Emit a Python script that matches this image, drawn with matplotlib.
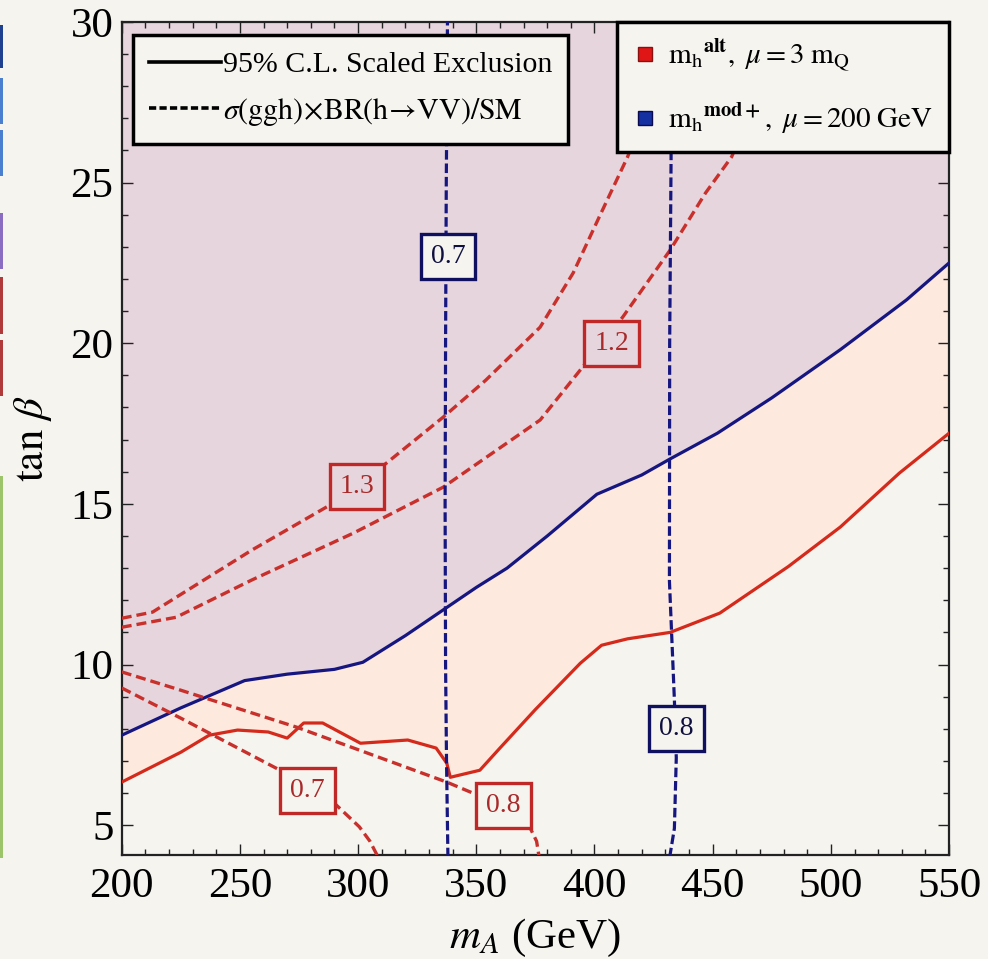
import matplotlib.pyplot as plt
from matplotlib.lines import Line2D
from matplotlib.patches import Rectangle

plt.rcParams['font.family'] = ['Liberation Serif', 'DejaVu Serif']
plt.rcParams['mathtext.fontset'] = 'stix'

# 95% CL scaled exclusion boundaries
mA_mod = [200, 225, 252, 270, 290, 302, 320, 336, 350, 363, 380, 401, 420, 432, 452, 475, 504, 532, 550]
tb_mod = [7.8, 8.65, 9.5, 9.7, 9.85, 10.07, 10.9, 11.7, 12.4, 13.0, 14.0, 15.3, 15.9, 16.4, 17.2, 18.3, 19.8, 21.35, 22.5]

mA_alt = [200, 225, 237, 249, 262, 270, 277, 285, 301, 321, 333, 337.5, 339, 351.5, 360, 375, 394, 403, 414, 432,
          453, 461, 482, 504, 529, 550]
tb_alt = [6.34, 7.27, 7.8, 7.96, 7.9, 7.71, 8.18, 8.18, 7.55, 7.65, 7.4, 6.93, 6.49, 6.71, 7.4, 8.6, 10.04, 10.6,
          10.8, 11.0, 11.6, 12.0, 13.05, 14.28, 15.96, 17.2]

# sigma x BR / SM contours, m_h^alt (red)
r13_x = [200, 213, 228, 255, 288, 312, 336, 354, 377, 391, 402, 414, 425, 435]
r13_y = [11.44, 11.63, 12.32, 13.56, 14.96, 16.27, 17.70, 18.85, 20.50, 22.19, 23.93, 25.80, 27.9, 30.0]
r12_x = [200, 223, 255, 298, 336, 377, 395, 412, 432, 447, 458, 468, 478]
r12_y = [11.16, 11.47, 12.63, 14.09, 15.52, 17.61, 19.26, 20.82, 22.90, 24.68, 25.80, 27.5, 30.0]
r08_x = [200, 225, 274, 337.5, 348.5, 362, 372.6, 375.5, 376.6]
r08_y = [9.77, 9.2, 8.05, 6.34, 6.0, 5.6, 4.94, 4.5, 4.0]
r07_x = [200, 225, 267, 279, 290, 300.5, 305, 308.5]
r07_y = [9.27, 8.33, 6.71, 6.09, 5.68, 4.95, 4.5, 4.0]

# sigma x BR / SM contours, m_h^mod+ (blue)
b07_y = [4.0, 7.0, 10, 15, 20, 25, 30]
b07_x = [338, 337.4, 337.0, 336.8, 337.0, 337.3, 337.8]
b08_y = [4.0, 4.9, 7.1, 8.9, 12.6, 20, 25.8, 30]
b08_x = [431.8, 433.8, 434.6, 433.8, 431.7, 431.8, 432.4, 432.2]

# contour labels: (mA, tan beta, text)
red_labels = [(299.5, 15.55, '1.3'), (407.2, 19.98, '1.2'), (278.7, 6.09, '0.7'), (361.6, 5.62, '0.8')]
blue_labels = [(338.0, 22.7, '0.7'), (434.6, 8.02, '0.8')]

bg = '#f5f4ef'
mauve = '#e6d5dc'
peach = '#fde9de'
red = '#d42a1c'
red_d = '#c8302c'
navy = '#161680'

fig = plt.figure(figsize=(9.88, 9.59), dpi=100, facecolor=bg)
ax = fig.add_axes([0.1232, 0.1084, 0.8374, 0.8687])
ax.set_facecolor(bg)

ax.fill_between(mA_alt, tb_alt, 30, color=peach, lw=0, zorder=1)
ax.fill_between(mA_mod, tb_mod, 30, color=mauve, lw=0, zorder=1)

ax.plot(mA_alt, tb_alt, color=red, lw=2.3, zorder=3)
ax.plot(mA_mod, tb_mod, color=navy, lw=2.3, zorder=3)

dash = (0, (3.0, 1.5))
for xs, ys in [(r13_x, r13_y), (r12_x, r12_y), (r08_x, r08_y), (r07_x, r07_y)]:
    ax.plot(xs, ys, color=red_d, lw=2.4, ls=dash, zorder=4)
for xs, ys in [(b07_x, b07_y), (b08_x, b08_y)]:
    ax.plot(xs, ys, color=navy, lw=2.3, ls=(0, (3.0, 1.2)), zorder=4)

for x, y, s in red_labels:
    fc = mauve if y > 12 else bg
    ax.text(x, y, s, ha='center', va='center', fontsize=20, color='#a82a2a', zorder=6,
            bbox=dict(boxstyle='square,pad=0.36', fc=fc, ec='#c02828', lw=2.4))
for x, y, s in blue_labels:
    ax.text(x, y, s, ha='center', va='center', fontsize=20, color='#101040', zorder=6,
            bbox=dict(boxstyle='square,pad=0.36', fc=bg, ec='#101060', lw=2.4))

ax.set_xlim(200, 550)
ax.set_ylim(4.07, 30)
ax.set_xticks(range(200, 551, 50))
ax.set_xticks(range(200, 551, 10), minor=True)
ax.set_yticks(range(5, 31, 5))
ax.set_yticks(range(5, 31, 1), minor=True)
ax.tick_params(which='both', direction='in', top=True, right=True, width=1.0, color='#222222')
ax.tick_params(which='major', length=8, labelsize=31)
ax.tick_params(axis='x', which='major', pad=9)
ax.tick_params(axis='y', which='major', pad=6)
ax.tick_params(which='minor', length=4.5)
for sp in ax.spines.values():
    sp.set_linewidth(1.6)
    sp.set_color('#222222')

ax.set_xlabel(r'$m_A$ (GeV)', fontsize=31, labelpad=8)
ax.set_ylabel(r'$\tan\,\beta$', fontsize=31, labelpad=12)

h1 = [Line2D([], [], color='k', lw=2.6),
      Line2D([], [], color='k', lw=2.6, ls=(0, (2.0, 0.9)))]
l1 = ['95% C.L. Scaled Exclusion',
      r'$\sigma\mathrm{(ggh)}\!\times\!\mathrm{BR(h}\!\rightarrow\!\mathrm{VV)/SM}$']
leg1 = ax.legend(h1, l1, loc='upper left', bbox_to_anchor=(0.0137, 0.9844), borderaxespad=0,
                 handlelength=2.4, handletextpad=0.05, fontsize=21.5, fancybox=False,
                 edgecolor='k', facecolor=bg, framealpha=1, labelspacing=0.58, borderpad=0.55)
leg1.get_frame().set_linewidth(2.5)
leg1.set_zorder(8)
ax.add_artist(leg1)

h2 = [Line2D([], [], marker='s', ls='none', ms=10, mfc='#e01515', mec='#8a1010', mew=1),
      Line2D([], [], marker='s', ls='none', ms=10, mfc='#1530a0', mec='#0a0a50', mew=1)]
l2 = [r'$\mathrm{m_h}^{\mathbf{alt}},\ \mu = 3\ \mathrm{m_Q}$',
      r'$\mathrm{m_h}^{\mathbf{mod+}},\ \mu = 200\ \mathrm{GeV}$']
leg2 = ax.legend(h2, l2, loc='upper right', bbox_to_anchor=(1.0, 1.0), borderaxespad=0,
                 handlelength=0.8, handletextpad=0.4, fontsize=21, fancybox=False,
                 edgecolor='k', facecolor=bg, framealpha=1, labelspacing=0.95, borderpad=0.55)
leg2.get_frame().set_linewidth(2.5)
leg2.set_zorder(8)

# coloured strips at the left edge of the screenshot
strips = [(25, 68, '#1f3f8f'), (78, 124, '#4a7fd0'), (130, 176, '#4a7fd0'), (213, 269, '#8a6cc0'),
          (277, 334, '#b03a3a'), (340, 396, '#b03a3a'), (476, 858, '#9cc46a')]
for y1, y2, c in strips:
    fig.add_artist(Rectangle((0, 1 - y2 / 959), 2.5 / 988, (y2 - y1) / 959,
                             transform=fig.transFigure, color=c, lw=0))

fig.savefig('out.png', dpi=100, facecolor=bg)
